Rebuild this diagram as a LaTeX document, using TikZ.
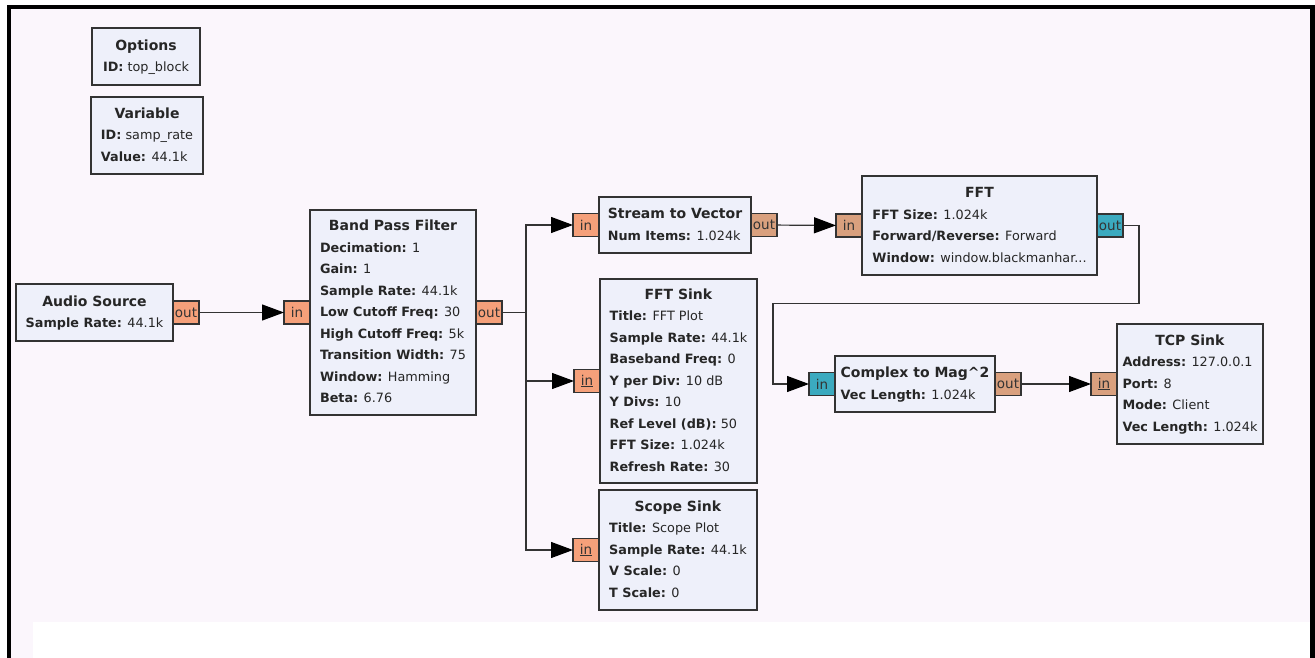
\documentclass[tikz,border=0pt]{standalone}
\usepackage{fontspec}
\setmainfont{DejaVu Sans}
\usetikzlibrary{
  positioning,
  arrows.meta,
  calc
}
\usepackage{xcolor}
\definecolor{canvas}{HTML}{FBF6FC}
\definecolor{blockfill}{HTML}{EEF0FA}
\definecolor{floatport}{HTML}{F5A07A}
\definecolor{fvecport}{HTML}{D9A07E}
\definecolor{cvecport}{HTML}{3BAABF}
\newcommand{\blocktitle}[1]{\multicolumn{1}{@{}c@{}}{\fontsize{14}{21.5}\selectfont\textbf{#1}}}

\begin{document}
\begin{tikzpicture}[
  x=1pt, y=-1pt,
  block/.style={draw=black!80, fill=blockfill, line width=1.2pt, anchor=north west,
                inner sep=1pt, outer sep=0pt, text=black!85,
                font={\fontsize{12.8}{21.5}\selectfont}},
  port/.style={draw=black!80, line width=1.1pt, minimum width=26pt, minimum height=23pt,
               inner sep=0pt, outer sep=0pt, text=black!80,
               font={\fontsize{13.5}{15}\selectfont}},
  wire/.style={draw=black!80, line width=1.2pt,
               -{Triangle[length=22pt,width=16pt,color=black]}}
]
  % Canvas and frame
  \useasboundingbox (0,0) rectangle (1315,658);
  \fill[white] (0,0) rectangle (1315,658);
  \fill[black] (7,5) rectangle (1315,658);
  \fill[canvas] (11,9) rectangle (1310,658);
  \fill[white] (33,622) rectangle (1310,658);

  % Variables
  \node[block, minimum width=108pt, minimum height=57pt] (opts) at (92,28) {%
    \begin{tabular}{@{}l@{}}\blocktitle{Options}\\
    \textbf{ID:} top\_block\end{tabular}};
  \node[block, minimum width=112pt, minimum height=77pt] (var) at (91,97) {%
    \begin{tabular}{@{}l@{}}\blocktitle{Variable}\\
    \textbf{ID:} samp\_rate\\
    \textbf{Value:} 44.1k\end{tabular}};

  % Blocks
  \node[block, minimum width=157pt, minimum height=57pt] (audio) at (16,284) {%
    \begin{tabular}{@{}l@{}}\blocktitle{Audio Source}\\
    \textbf{Sample Rate:} 44.1k\end{tabular}};
  \node[block, minimum width=166pt, minimum height=205pt] (bpf) at (310,210) {%
    \begin{tabular}{@{}l@{}}\blocktitle{Band Pass Filter}\\
    \textbf{Decimation:} 1\\
    \textbf{Gain:} 1\\
    \textbf{Sample Rate:} 44.1k\\
    \textbf{Low Cutoff Freq:} 30\\
    \textbf{High Cutoff Freq:} 5k\\
    \textbf{Transition Width:} 75\\
    \textbf{Window:} Hamming\\
    \textbf{Beta:} 6.76\end{tabular}};
  \node[block, minimum width=152pt, minimum height=56pt] (s2v) at (599,197) {%
    \begin{tabular}{@{}l@{}}\blocktitle{Stream to Vector}\\
    \textbf{Num Items:} 1.024k\end{tabular}};
  \node[block, minimum width=235pt, minimum height=99pt] (fft) at (862,176) {%
    \begin{tabular}{@{}l@{}}\blocktitle{FFT}\\
    \textbf{FFT Size:} 1.024k\\
    \textbf{Forward/Reverse:} Forward\\
    \textbf{Window:} window.blackmanhar...\end{tabular}};
  \node[block, minimum width=157pt, minimum height=204pt] (fftsink) at (600,279) {%
    \begin{tabular}{@{}l@{}}\blocktitle{FFT Sink}\\
    \textbf{Title:} FFT Plot\\
    \textbf{Sample Rate:} 44.1k\\
    \textbf{Baseband Freq:} 0\\
    \textbf{Y per Div:} 10 dB\\
    \textbf{Y Divs:} 10\\
    \textbf{Ref Level (dB):} 50\\
    \textbf{FFT Size:} 1.024k\\
    \textbf{Refresh Rate:} 30\end{tabular}};
  \node[block, minimum width=158pt, minimum height=120pt] (scope) at (599,490) {%
    \begin{tabular}{@{}l@{}}\blocktitle{Scope Sink}\\
    \textbf{Title:} Scope Plot\\
    \textbf{Sample Rate:} 44.1k\\
    \textbf{V Scale:} 0\\
    \textbf{T Scale:} 0\end{tabular}};
  \node[block, minimum width=160pt, minimum height=56pt] (c2m) at (835,356) {%
    \begin{tabular}{@{}l@{}}\blocktitle{Complex to Mag\textasciicircum 2}\\
    \textbf{Vec Length:} 1.024k\end{tabular}};
  \node[block, minimum width=146pt, minimum height=120pt] (tcp) at (1117,324) {%
    \begin{tabular}{@{}l@{}}\blocktitle{TCP Sink}\\
    \textbf{Address:} 127.0.0.1\\
    \textbf{Port:} 8\\
    \textbf{Mode:} Client\\
    \textbf{Vec Length:} 1.024k\end{tabular}};

  % Ports
  \node[port, fill=floatport, right=0pt of audio] (audio-out) {out};
  \node[port, fill=floatport, left=0pt of bpf] (bpf-in) {in};
  \node[port, fill=floatport, right=0pt of bpf] (bpf-out) {out};
  \node[port, fill=floatport, left=0pt of s2v] (s2v-in) {in};
  \node[port, fill=fvecport, right=0pt of s2v] (s2v-out) {out};
  \node[port, fill=fvecport, left=0pt of fft] (fft-in) {in};
  \node[port, fill=cvecport, right=0pt of fft] (fft-out) {out};
  \node[port, fill=floatport, left=0pt of fftsink] (fftsink-in) {\underline{in}};
  \node[port, fill=floatport, left=0pt of scope] (scope-in) {\underline{in}};
  \node[port, fill=cvecport, left=0pt of c2m] (c2m-in) {in};
  \node[port, fill=fvecport, right=0pt of c2m] (c2m-out) {out};
  \node[port, fill=fvecport, left=0pt of tcp] (tcp-in) {\underline{in}};

  % Connections
  \draw[wire] (audio-out) -- (bpf-in);
  \draw[wire] (bpf-out.east) -- ++(24,0) |- (s2v-in.west);
  \draw[wire] (bpf-out.east) -- ++(24,0) |- (fftsink-in.west);
  \draw[wire] (bpf-out.east) -- ++(24,0) |- (scope-in.west);
  \draw[wire] (s2v-out) -- (fft-in);
  \draw[wire] (fft-out.east) -- ++(16,0) -- ++(0,78)
    -| ($(c2m-in.west)+(-36,0)$) -- (c2m-in.west);
  \draw[wire] (c2m-out) -- (tcp-in);
\end{tikzpicture}
\end{document}
